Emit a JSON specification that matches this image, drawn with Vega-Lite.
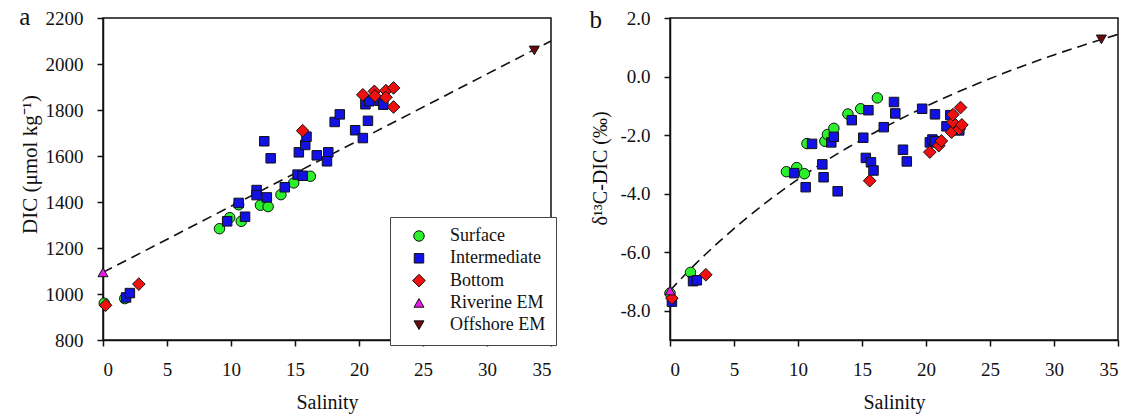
{
  "$schema": "https://vega.github.io/schema/vega-lite/v6.json",
  "padding": {"left": 18, "top": 4, "right": 2, "bottom": 2},
  "background": "white",
  "spacing": 119,
  "bounds": "flush",
  "config": {
    "view": {"stroke": "#111", "strokeWidth": 1.5},
    "font": "Liberation Serif",
    "axis": {
      "grid": false,
      "domainColor": "#111",
      "domainWidth": 1.5,
      "tickColor": "#111",
      "tickWidth": 1.5,
      "tickSize": 6,
      "labelFont": "Liberation Serif",
      "labelFontSize": 19,
      "labelColor": "#111",
      "titleFont": "Liberation Serif",
      "titleFontSize": 20,
      "titleFontWeight": "normal",
      "titleColor": "#111"
    },
    "axisX": {"labelPadding": 14, "titlePadding": 13},
    "axisY": {"labelPadding": 14}
  },
  "datasets": {
    "dic": [
      {"salinity": 0.1, "dic": 960, "group": "Surface"},
      {"salinity": 1.7, "dic": 980, "group": "Surface"},
      {"salinity": 9.1, "dic": 1284, "group": "Surface"},
      {"salinity": 9.9, "dic": 1332, "group": "Surface"},
      {"salinity": 10.6, "dic": 1388, "group": "Surface"},
      {"salinity": 10.8, "dic": 1316, "group": "Surface"},
      {"salinity": 12.3, "dic": 1386, "group": "Surface"},
      {"salinity": 12.9, "dic": 1380, "group": "Surface"},
      {"salinity": 13.9, "dic": 1432, "group": "Surface"},
      {"salinity": 14.9, "dic": 1483, "group": "Surface"},
      {"salinity": 16.2, "dic": 1512, "group": "Surface"},
      {"salinity": 1.8, "dic": 985, "group": "Intermediate"},
      {"salinity": 2.1, "dic": 1004, "group": "Intermediate"},
      {"salinity": 9.7, "dic": 1316, "group": "Intermediate"},
      {"salinity": 10.6, "dic": 1396, "group": "Intermediate"},
      {"salinity": 11.1, "dic": 1336, "group": "Intermediate"},
      {"salinity": 12.0, "dic": 1452, "group": "Intermediate"},
      {"salinity": 12.0, "dic": 1430, "group": "Intermediate"},
      {"salinity": 12.8, "dic": 1420, "group": "Intermediate"},
      {"salinity": 12.6, "dic": 1664, "group": "Intermediate"},
      {"salinity": 13.1, "dic": 1590, "group": "Intermediate"},
      {"salinity": 14.2, "dic": 1464, "group": "Intermediate"},
      {"salinity": 15.2, "dic": 1519, "group": "Intermediate"},
      {"salinity": 15.6, "dic": 1514, "group": "Intermediate"},
      {"salinity": 15.3, "dic": 1616, "group": "Intermediate"},
      {"salinity": 15.8, "dic": 1648, "group": "Intermediate"},
      {"salinity": 15.9, "dic": 1684, "group": "Intermediate"},
      {"salinity": 16.7, "dic": 1603, "group": "Intermediate"},
      {"salinity": 17.6, "dic": 1616, "group": "Intermediate"},
      {"salinity": 17.5, "dic": 1577, "group": "Intermediate"},
      {"salinity": 18.1, "dic": 1748, "group": "Intermediate"},
      {"salinity": 18.5, "dic": 1781, "group": "Intermediate"},
      {"salinity": 19.7, "dic": 1712, "group": "Intermediate"},
      {"salinity": 20.3, "dic": 1678, "group": "Intermediate"},
      {"salinity": 20.5, "dic": 1825, "group": "Intermediate"},
      {"salinity": 20.7, "dic": 1753, "group": "Intermediate"},
      {"salinity": 20.8, "dic": 1838, "group": "Intermediate"},
      {"salinity": 21.6, "dic": 1840, "group": "Intermediate"},
      {"salinity": 21.9, "dic": 1823, "group": "Intermediate"},
      {"salinity": 0.2, "dic": 951, "group": "Bottom"},
      {"salinity": 2.8, "dic": 1043, "group": "Bottom"},
      {"salinity": 15.6, "dic": 1710, "group": "Bottom"},
      {"salinity": 20.3, "dic": 1866, "group": "Bottom"},
      {"salinity": 21.2, "dic": 1881, "group": "Bottom"},
      {"salinity": 21.25, "dic": 1861, "group": "Bottom"},
      {"salinity": 22.1, "dic": 1884, "group": "Bottom"},
      {"salinity": 22.7, "dic": 1896, "group": "Bottom"},
      {"salinity": 22.1, "dic": 1855, "group": "Bottom"},
      {"salinity": 22.7, "dic": 1813, "group": "Bottom"},
      {"salinity": 0.0, "dic": 1094, "group": "Riverine EM"},
      {"salinity": 33.7, "dic": 2059, "group": "Offshore EM"}
    ],
    "d13c": [
      {"salinity": 0.0, "d13c": -7.40, "group": "Surface"},
      {"salinity": 1.6, "d13c": -6.69, "group": "Surface"},
      {"salinity": 9.1, "d13c": -3.25, "group": "Surface"},
      {"salinity": 9.9, "d13c": -3.11, "group": "Surface"},
      {"salinity": 10.5, "d13c": -3.32, "group": "Surface"},
      {"salinity": 10.7, "d13c": -2.29, "group": "Surface"},
      {"salinity": 12.1, "d13c": -2.21, "group": "Surface"},
      {"salinity": 12.3, "d13c": -1.98, "group": "Surface"},
      {"salinity": 12.8, "d13c": -1.77, "group": "Surface"},
      {"salinity": 13.9, "d13c": -1.28, "group": "Surface"},
      {"salinity": 14.9, "d13c": -1.10, "group": "Surface"},
      {"salinity": 16.2, "d13c": -0.73, "group": "Surface"},
      {"salinity": 0.15, "d13c": -7.69, "group": "Intermediate"},
      {"salinity": 1.8, "d13c": -6.99, "group": "Intermediate"},
      {"salinity": 2.1, "d13c": -6.96, "group": "Intermediate"},
      {"salinity": 9.7, "d13c": -3.30, "group": "Intermediate"},
      {"salinity": 10.6, "d13c": -3.78, "group": "Intermediate"},
      {"salinity": 11.1, "d13c": -2.30, "group": "Intermediate"},
      {"salinity": 11.9, "d13c": -3.00, "group": "Intermediate"},
      {"salinity": 12.0, "d13c": -3.44, "group": "Intermediate"},
      {"salinity": 12.6, "d13c": -2.25, "group": "Intermediate"},
      {"salinity": 12.8, "d13c": -2.06, "group": "Intermediate"},
      {"salinity": 13.1, "d13c": -3.92, "group": "Intermediate"},
      {"salinity": 14.2, "d13c": -1.49, "group": "Intermediate"},
      {"salinity": 15.1, "d13c": -2.09, "group": "Intermediate"},
      {"salinity": 15.3, "d13c": -2.78, "group": "Intermediate"},
      {"salinity": 15.5, "d13c": -1.15, "group": "Intermediate"},
      {"salinity": 15.7, "d13c": -2.93, "group": "Intermediate"},
      {"salinity": 15.9, "d13c": -3.21, "group": "Intermediate"},
      {"salinity": 16.7, "d13c": -1.73, "group": "Intermediate"},
      {"salinity": 17.5, "d13c": -0.87, "group": "Intermediate"},
      {"salinity": 17.6, "d13c": -1.26, "group": "Intermediate"},
      {"salinity": 18.2, "d13c": -2.50, "group": "Intermediate"},
      {"salinity": 18.5, "d13c": -2.90, "group": "Intermediate"},
      {"salinity": 19.7, "d13c": -1.10, "group": "Intermediate"},
      {"salinity": 20.3, "d13c": -2.25, "group": "Intermediate"},
      {"salinity": 20.5, "d13c": -2.15, "group": "Intermediate"},
      {"salinity": 20.7, "d13c": -2.21, "group": "Intermediate"},
      {"salinity": 20.7, "d13c": -1.29, "group": "Intermediate"},
      {"salinity": 21.6, "d13c": -1.70, "group": "Intermediate"},
      {"salinity": 21.9, "d13c": -1.32, "group": "Intermediate"},
      {"salinity": 22.6, "d13c": -1.84, "group": "Intermediate"},
      {"salinity": 0.15, "d13c": -7.57, "group": "Bottom"},
      {"salinity": 2.8, "d13c": -6.77, "group": "Bottom"},
      {"salinity": 15.6, "d13c": -3.56, "group": "Bottom"},
      {"salinity": 20.3, "d13c": -2.58, "group": "Bottom"},
      {"salinity": 21.0, "d13c": -2.36, "group": "Bottom"},
      {"salinity": 21.2, "d13c": -2.20, "group": "Bottom"},
      {"salinity": 22.0, "d13c": -1.90, "group": "Bottom"},
      {"salinity": 22.1, "d13c": -1.56, "group": "Bottom"},
      {"salinity": 22.1, "d13c": -1.30, "group": "Bottom"},
      {"salinity": 22.6, "d13c": -1.79, "group": "Bottom"},
      {"salinity": 22.7, "d13c": -1.06, "group": "Bottom"},
      {"salinity": 22.8, "d13c": -1.65, "group": "Bottom"},
      {"salinity": 0.0, "d13c": -7.31, "group": "Riverine EM"},
      {"salinity": 33.7, "d13c": 1.27, "group": "Offshore EM"}
    ],
    "mixA": [
      {"salinity": 0, "dic": 1094},
      {"salinity": 35, "dic": 2100}
    ],
    "mixB": [
      {"salinity": 0, "d13c": -7.31},
      {"salinity": 2, "d13c": -6.40},
      {"salinity": 4, "d13c": -5.58},
      {"salinity": 6, "d13c": -4.83},
      {"salinity": 8, "d13c": -4.14},
      {"salinity": 10, "d13c": -3.51},
      {"salinity": 12, "d13c": -2.93},
      {"salinity": 14, "d13c": -2.40},
      {"salinity": 16, "d13c": -1.91},
      {"salinity": 18, "d13c": -1.45},
      {"salinity": 20, "d13c": -1.02},
      {"salinity": 22, "d13c": -0.62},
      {"salinity": 24, "d13c": -0.25},
      {"salinity": 26, "d13c": 0.10},
      {"salinity": 28, "d13c": 0.43},
      {"salinity": 30, "d13c": 0.74},
      {"salinity": 32, "d13c": 1.03},
      {"salinity": 34, "d13c": 1.31},
      {"salinity": 35, "d13c": 1.44}
    ],
    "labelA": [{"label": "a"}],
    "labelB": [{"label": "b"}]
  },
  "resolve": {
    "scale": {"color": "independent", "shape": "independent", "size": "independent"},
    "legend": {"color": "independent", "shape": "independent"}
  },
  "hconcat": [
    {
      "width": 448,
      "height": 322,
      "layer": [
        {
          "data": {"name": "mixA"},
          "mark": {"type": "line", "color": "#111", "strokeWidth": 1.6, "strokeDash": [10, 6]},
          "encoding": {
            "x": {
              "field": "salinity", "type": "quantitative",
              "scale": {"domain": [0, 35], "nice": false, "zero": false},
              "axis": {"values": [0, 5, 10, 15, 20, 25, 30, 35], "title": "Salinity"}
            },
            "y": {
              "field": "dic", "type": "quantitative",
              "scale": {"domain": [800, 2200], "nice": false, "zero": false},
              "axis": {"values": [800, 1000, 1200, 1400, 1600, 1800, 2000, 2200], "format": "d", "title": "DIC (μmol kg⁻¹)", "titleFontSize": 21, "titleX": -63, "titleY": 146}
            }
          }
        },
        {
          "data": {"name": "dic"},
          "mark": {"type": "point", "filled": true, "stroke": "#111", "strokeWidth": 1, "opacity": 1},
          "encoding": {
            "x": {"field": "salinity", "type": "quantitative"},
            "y": {"field": "dic", "type": "quantitative"},
            "color": {
              "field": "group", "type": "nominal",
              "scale": {"domain": ["Surface", "Intermediate", "Bottom", "Riverine EM", "Offshore EM"], "range": ["#2cf02c", "#1212e6", "#f01010", "#e81ee8", "#6a0a0a"]},
              "legend": {
                "orient": "none", "legendX": 287, "legendY": 199, "title": null,
                "strokeColor": "#444", "fillColor": "white", "padding": 10,
                "symbolOffset": 10, "labelOffset": 22, "labelFont": "Liberation Serif", "labelFontSize": 18,
                "labelColor": "#111", "symbolSize": 80, "symbolStrokeColor": "#111", "symbolStrokeWidth": 1, "rowPadding": 4.3
              }
            },
            "shape": {
              "field": "group", "type": "nominal",
              "scale": {"domain": ["Surface", "Intermediate", "Bottom", "Riverine EM", "Offshore EM"], "range": ["circle", "square", "diamond", "triangle-up", "triangle-down"]}
            },
            "size": {
              "field": "group", "type": "nominal", "legend": null,
              "scale": {"type": "ordinal", "domain": ["Surface", "Intermediate", "Bottom", "Riverine EM", "Offshore EM"], "range": [110, 90, 160, 100, 100]}
            }
          }
        },
        {
          "data": {"name": "labelA"},
          "mark": {"type": "text", "font": "Liberation Serif", "fontSize": 25, "align": "center", "baseline": "alphabetic", "color": "#111"},
          "encoding": {
            "x": {"datum": -6.1, "type": "quantitative"},
            "y": {"datum": 2170, "type": "quantitative"},
            "text": {"field": "label"}
          }
        }
      ]
    },
    {
      "width": 448,
      "height": 322,
      "layer": [
        {
          "data": {"name": "mixB"},
          "mark": {"type": "line", "color": "#111", "strokeWidth": 1.6, "strokeDash": [10, 6], "interpolate": "monotone"},
          "encoding": {
            "x": {
              "field": "salinity", "type": "quantitative",
              "scale": {"domain": [0, 35], "nice": false, "zero": false},
              "axis": {"values": [0, 5, 10, 15, 20, 25, 30, 35], "title": "Salinity"}
            },
            "y": {
              "field": "d13c", "type": "quantitative",
              "scale": {"domain": [-9, 2], "nice": false, "zero": false},
              "axis": {"values": [-8, -6, -4, -2, 0, 2], "labelExpr": "replace(format(datum.value, '.1f'), '−', '-')", "title": "δ¹³C-DIC (‰)", "titleX": -60, "titleY": 150}
            }
          }
        },
        {
          "data": {"name": "d13c"},
          "mark": {"type": "point", "filled": true, "stroke": "#111", "strokeWidth": 1, "opacity": 1},
          "encoding": {
            "x": {"field": "salinity", "type": "quantitative"},
            "y": {"field": "d13c", "type": "quantitative"},
            "color": {
              "field": "group", "type": "nominal", "legend": null,
              "scale": {"domain": ["Surface", "Intermediate", "Bottom", "Riverine EM", "Offshore EM"], "range": ["#2cf02c", "#1212e6", "#f01010", "#e81ee8", "#6a0a0a"]}
            },
            "shape": {
              "field": "group", "type": "nominal", "legend": null,
              "scale": {"domain": ["Surface", "Intermediate", "Bottom", "Riverine EM", "Offshore EM"], "range": ["circle", "square", "diamond", "triangle-up", "triangle-down"]}
            },
            "size": {
              "field": "group", "type": "nominal", "legend": null,
              "scale": {"type": "ordinal", "domain": ["Surface", "Intermediate", "Bottom", "Riverine EM", "Offshore EM"], "range": [110, 90, 160, 100, 100]}
            }
          }
        },
        {
          "data": {"name": "labelB"},
          "mark": {"type": "text", "font": "Liberation Serif", "fontSize": 25, "align": "center", "baseline": "alphabetic", "color": "#111"},
          "encoding": {
            "x": {"datum": -5.8, "type": "quantitative"},
            "y": {"datum": 1.675, "type": "quantitative"},
            "text": {"field": "label"}
          }
        }
      ]
    }
  ]
}
